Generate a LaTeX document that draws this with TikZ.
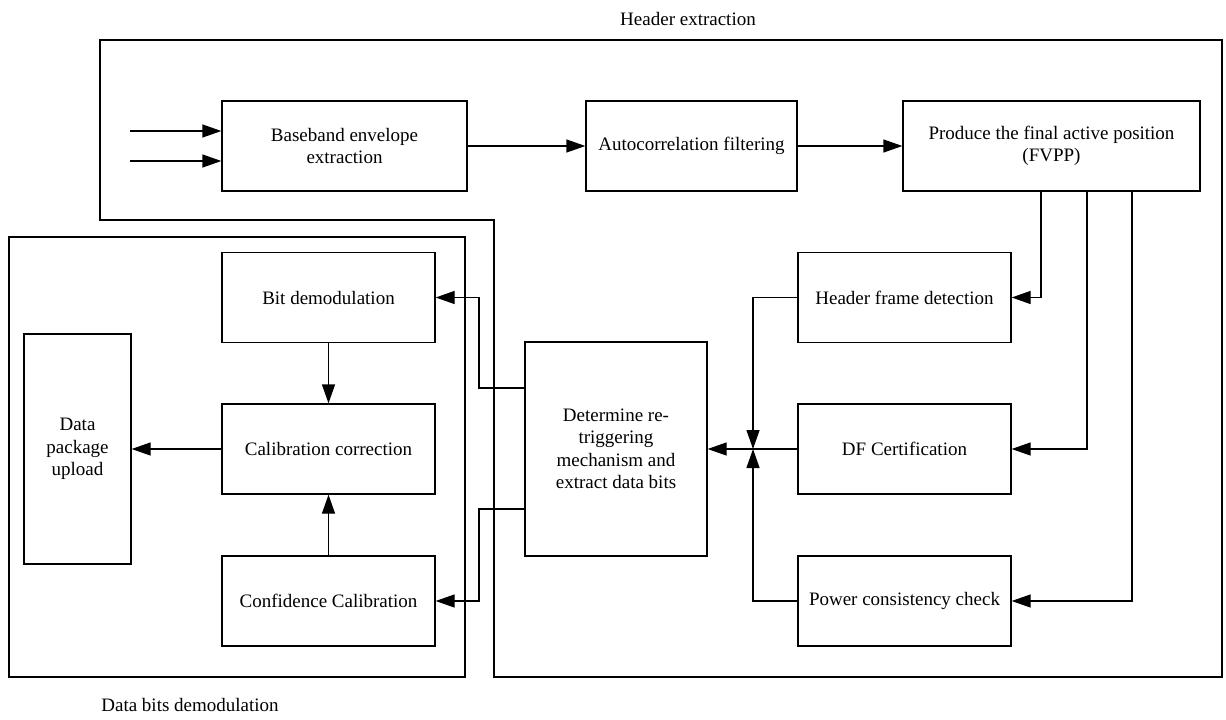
\documentclass[tikz,border=0pt]{standalone}
\usepackage{fontspec}
\setmainfont{Liberation Serif}
\usepackage{tikz}
\usetikzlibrary{arrows.meta}
\tikzset{
    block/.style={draw, line width=1.3pt, align=center, inner sep=0pt, minimum width=213pt, minimum height=90pt}, % 方框的样式
    flow/.style={line width=1.3pt, -{Triangle[length=19pt, width=13pt]}}, % 连线箭头的样式
    frame/.style={line width=1.3pt} % 分组外框的样式
}

\begin{document}
\begin{tikzpicture}[x=1pt, y=-1pt, font=\fontsize{19}{22.5}\selectfont]
    \def\W{1226} \def\H{720}
    \useasboundingbox (0,0) rectangle (\W,\H);

    \draw[frame] (100,40) -- (1222,40) -- (1222,677) -- (494,677) -- (494,220) -- (100,220) -- cycle;
    \draw[frame] (9,237) rectangle (465,677);
    \node (hdrlab) at (688,19) {Header extraction};
    \node (datlab) at (190,705) {Data bits demodulation};

    \node[block, minimum width=245pt] (base) at (344.5,146) {Baseband envelope\\extraction};
    \node[block, minimum width=211pt] (auto) at (691.5,146) {Autocorrelation filtering};
    \node[block, minimum width=297pt] (fvpp) at (1051.5,146) {Produce the final active position\\(FVPP)};
    \node[block] (hfd) at (904.5,297.5) {Header frame detection};
    \node[block] (dfc) at (904.5,449) {DF Certification};
    \node[block] (pcc) at (904.5,601) {Power consistency check};
    \node[block, minimum width=182pt, minimum height=214pt] (det) at (616,449) {Determine re-\\triggering\\mechanism and\\extract data bits};
    \node[block] (bit) at (328.5,297.5) {Bit demodulation};
    \node[block] (cal) at (328.5,449) {Calibration correction};
    \node[block] (conf) at (328.5,601) {Confidence Calibration};
    \node[block, minimum width=107pt, minimum height=230pt] (upl) at (77.5,449) {Data\\package\\upload};

    \coordinate (in1) at (130,131); \coordinate (in2) at (130,161);
    \draw[flow] (in1) -- (in1 -| base.west);
    \draw[flow] (in2) -- (in2 -| base.west);
    \draw[flow] (base.east) -- (auto.west);
    \draw[flow] (auto.east) -- (fvpp.west);

    \coordinate (tap1) at (1041,0); \coordinate (tap2) at (1087,0); \coordinate (tap3) at (1132,0);
    \draw[flow] (fvpp.south -| tap1) |- (hfd.east);
    \draw[flow] (fvpp.south -| tap2) |- (dfc.east);
    \draw[flow] (fvpp.south -| tap3) |- (pcc.east);

    \coordinate (jn) at (753,449);
    \draw[flow] (hfd.west) -| (jn);
    \draw[flow] (pcc.west) -| (jn);
    \draw[flow] (dfc.west) -- (det.east);

    \coordinate (sp1) at (479,388); \coordinate (sp2) at (479,509);
    \draw[flow] (sp1 -| det.west) -- (sp1) |- (bit.east);
    \draw[flow] (sp2 -| det.west) -- (sp2) |- (conf.east);
    \draw[flow] (bit.south) -- (cal.north);
    \draw[flow] (conf.north) -- (cal.south);
    \draw[flow] (cal.west) -- (upl.east);
\end{tikzpicture}
\end{document}
